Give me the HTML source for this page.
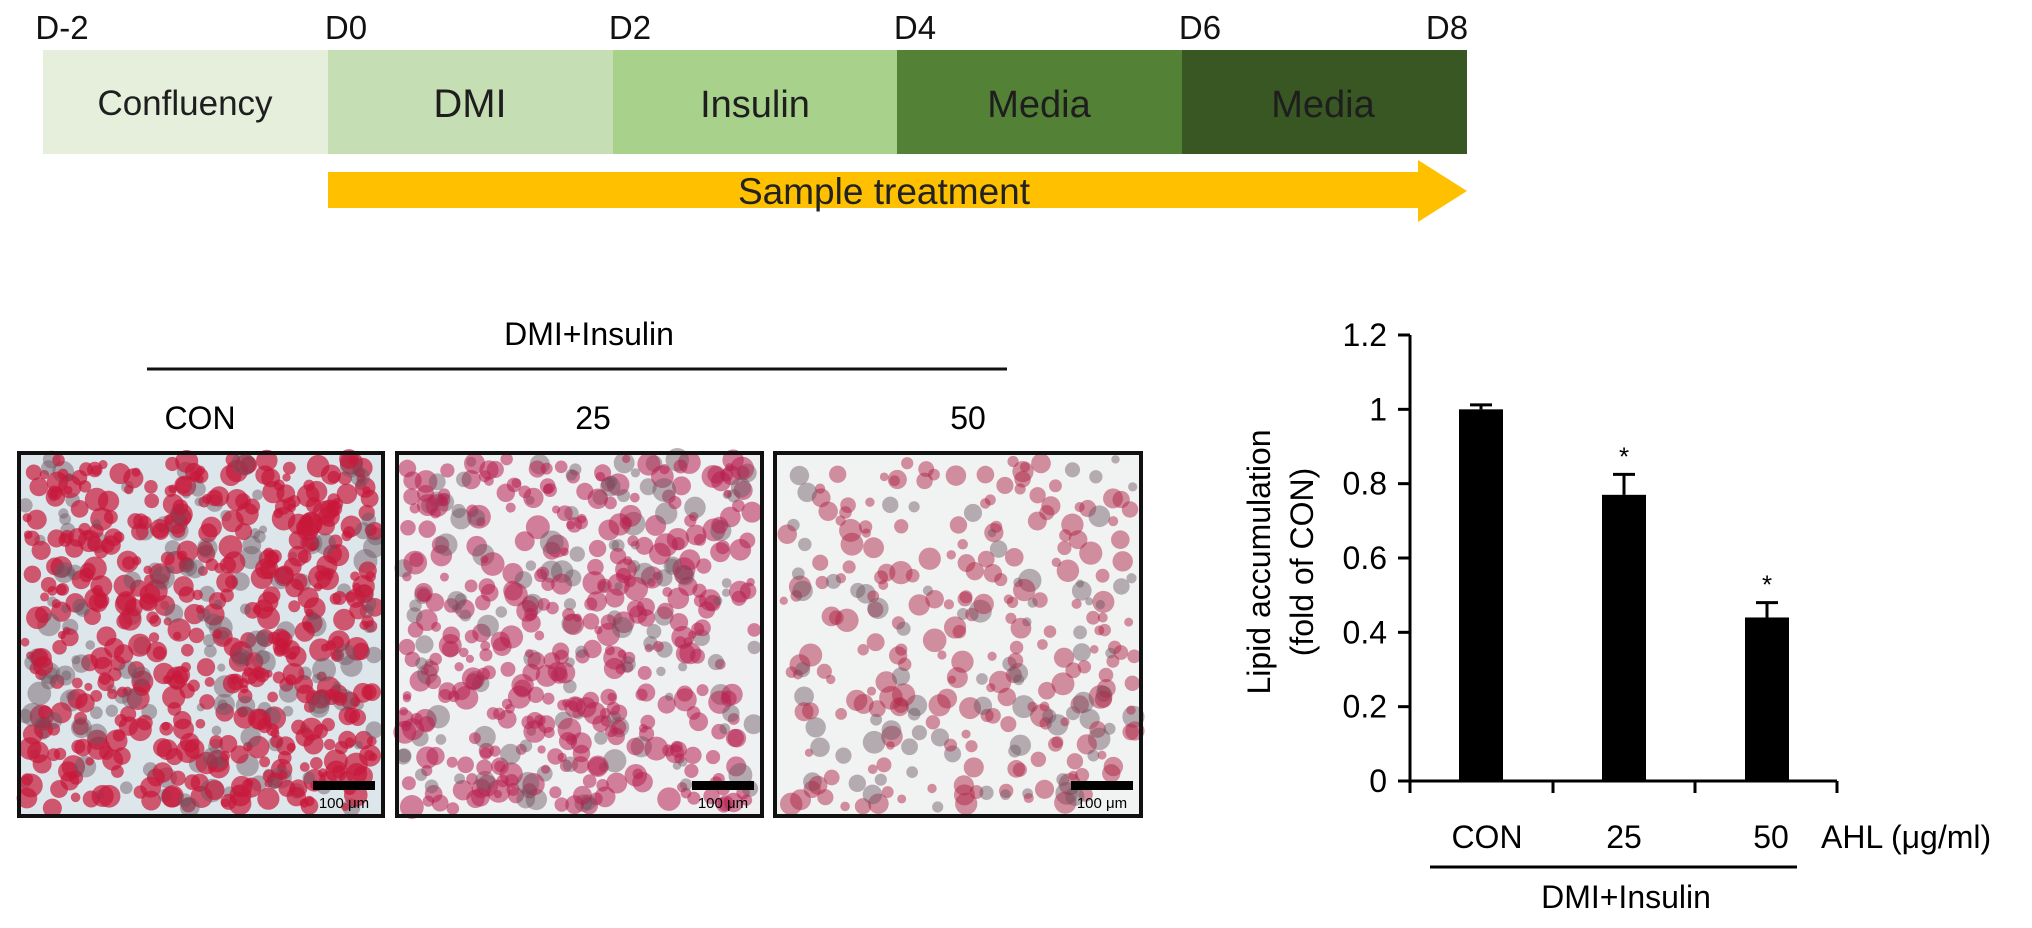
<!DOCTYPE html>
<html><head><meta charset="utf-8"><style>
body{margin:0;width:2032px;height:923px;background:#fff;overflow:hidden;font-family:"Liberation Sans",sans-serif}
svg text{font-family:"Liberation Sans",sans-serif}
</style></head><body>
<svg id="fig" width="2032" height="923">
<g>
<rect x="43" y="50" width="285" height="104" fill="#e5efdb"/>
<rect x="328" y="50" width="285" height="104" fill="#c6deb3"/>
<rect x="613" y="50" width="284" height="104" fill="#a8d18c"/>
<rect x="897" y="50" width="285" height="104" fill="#538135"/>
<rect x="1182" y="50" width="285" height="104" fill="#385723"/>
<g font-size="38" fill="#1e1e1e" text-anchor="middle">
<text x="185" y="115" font-size="35">Confluency</text>
<text x="470" y="117" font-size="40">DMI</text>
<text x="755" y="117">Insulin</text>
<text x="1039" y="117">Media</text>
<text x="1323" y="117">Media</text>
</g>
<g font-size="33" fill="#111" text-anchor="middle">
<text x="62" y="39">D-2</text>
<text x="346" y="39">D0</text>
<text x="630" y="39">D2</text>
<text x="915" y="39">D4</text>
<text x="1200" y="39">D6</text>
<text x="1447" y="39">D8</text>
</g>
<polygon points="328,172 1418,172 1418,160 1467,191 1418,222 1418,208 328,208" fill="#ffc000"/>
<text x="884" y="204" font-size="37" text-anchor="middle" fill="#222">Sample treatment</text>
</g>
<g>
<text x="589" y="345" font-size="32" text-anchor="middle">DMI+Insulin</text>
<line x1="147" y1="369" x2="1007" y2="369" stroke="#111" stroke-width="3"/>
<text x="200" y="429" font-size="32" text-anchor="middle">CON</text>
<text x="593" y="429" font-size="32" text-anchor="middle">25</text>
<text x="968" y="429" font-size="32" text-anchor="middle">50</text>
<g id="imgs"></g>
</g>
<g id="chart"></g>
</svg>
<script>
const categories=["CON","25","50"];
const values=[1.0,0.77,0.44];
const errors=[0.012,0.055,0.04];
const sig=[false,true,true];
const yTicks=[0,0.2,0.4,0.6,0.8,1,1.2];
const yTickLabels=["0","0.2","0.4","0.6","0.8","1","1.2"];
const NS="http://www.w3.org/2000/svg";
function mk(t,a,p){const e=document.createElementNS(NS,t);for(const k in a)e.setAttribute(k,a[k]);p.appendChild(e);return e;}
const chart=document.getElementById('chart');
const AX=1410, Y0=781, YTOP=335;
const y=v=>Y0-v/1.2*(Y0-YTOP);
const x=i=>1481+i*143;
mk('line',{x1:AX,y1:YTOP,x2:AX,y2:Y0+12,stroke:'#000','stroke-width':3},chart);
mk('line',{x1:AX,y1:Y0,x2:1837,y2:Y0,stroke:'#000','stroke-width':3},chart);
[1553,1695,1837].forEach(px=>{mk('line',{x1:px,y1:Y0,x2:px,y2:Y0+12,stroke:'#000','stroke-width':3},chart);});
yTicks.forEach((t,i)=>{
 const l=mk('line',{x1:AX-12,y1:y(t),x2:AX,y2:y(t),stroke:'#000','stroke-width':3},chart);
 
 
 const tx=mk('text',{x:1387,y:y(t)+11,'font-size':32,'text-anchor':'end'},chart);tx.textContent=yTickLabels[i];
 
 
});
categories.forEach((c,i)=>{
 const b=mk('rect',{x:x(i)-22,y:y(values[i]),width:44,height:Y0-y(values[i]),fill:'#000'},chart);
 
 
 const e=mk('path',{d:`M${x(i)} ${y(values[i])}V${y(values[i]+errors[i])}M${x(i)-11} ${y(values[i]+errors[i])}H${x(i)+11}`,stroke:'#000','stroke-width':3,fill:'none'},chart);
 
 
 if(sig[i]){const s=mk('text',{x:x(i),y:y(values[i]+errors[i])-9,'font-size':26,'text-anchor':'middle'},chart);s.textContent='*';
  
  }
});
const labX=[1487,1624,1771];
categories.forEach((c,i)=>{
 const t=mk('text',{x:labX[i],y:848,'font-size':32,'text-anchor':'middle'},chart);t.textContent=c;
 
 
});
let a=mk('text',{x:1821,y:848,'font-size':32},chart);a.textContent='AHL (μg/ml)';


let ln=mk('line',{x1:1430,y1:867,x2:1797,y2:867,stroke:'#000','stroke-width':3},chart);


a=mk('text',{x:1626,y:908,'font-size':32,'text-anchor':'middle'},chart);a.textContent='DMI+Insulin';


a=mk('text',{transform:'translate(1270,562) rotate(-90)','font-size':32,'text-anchor':'middle'},chart);a.textContent='Lipid accumulation';


a=mk('text',{transform:'translate(1313,562) rotate(-90)','font-size':32,'text-anchor':'middle'},chart);a.textContent='(fold of CON)';


// micrographs (texture)
const imgs=document.getElementById('imgs');
let seed=7;const rnd=()=>{seed=(seed*16807)%2147483647;return seed/2147483647;};
const panels=[[19,383,700,'#c8183a',0.7,'#dde6ea'],[397,762,520,'#b82050',0.55,'#eef0f1'],[775,1141,300,'#b02848',0.5,'#f1f2f2']];
const PT=453, PB=816;
panels.forEach((p,pi)=>{
 const g=mk('g',{},imgs);
 
 
 mk('rect',{x:p[0],y:PT,width:p[1]-p[0],height:PB-PT,fill:p[5]},g);
 for(let k=0;k<p[2];k++){
  const cx=p[0]+6+rnd()*(p[1]-p[0]-12), cy=PT+6+rnd()*(PB-PT-12), r=4+rnd()*8;
  const dark=rnd()<0.25;
  mk('circle',{cx:cx,cy:cy,r:r,fill:dark?'#6a5560':p[3],opacity:dark?0.45:p[4]},g);
 }
 mk('rect',{x:p[0],y:PT,width:p[1]-p[0],height:PB-PT,fill:'none',stroke:'#111','stroke-width':4},g);
 mk('rect',{x:p[1]-70,y:781,width:62,height:9,fill:'#000'},g);
 const t=mk('text',{x:p[1]-39,y:808,'font-size':15,'text-anchor':'middle'},g);t.textContent='100 μm';
});
</script>
</body></html>
